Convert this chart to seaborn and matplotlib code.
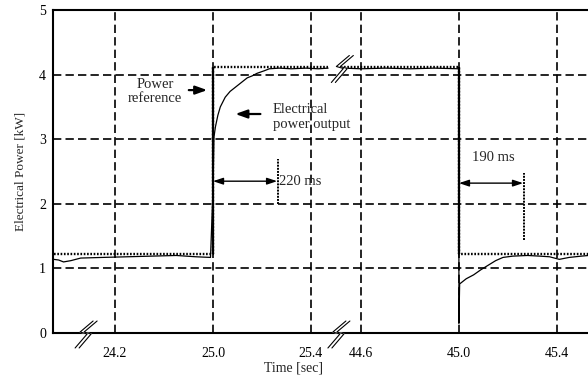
"""Step response of electrical power output (broken time axis)."""

import matplotlib.pyplot as plt
import numpy as np
import pandas as pd
import seaborn as sns
from matplotlib.transforms import Affine2D, ScaledTranslation

sns.set_style("white")
plt.rcParams["font.family"] = ["Liberation Serif", "DejaVu Serif"]

# ---- data ----
# step up (first window) and step down (second window)
seg1_time = [24.35, 24.37, 24.39, 24.42, 24.46, 24.55, 24.65, 24.75, 24.85, 24.93,
             24.99, 25.0, 25.004, 25.01, 25.02, 25.03, 25.05, 25.07, 25.09, 25.11,
             25.14, 25.16, 25.18, 25.21, 25.23, 25.27, 25.32, 25.38, 25.43, 25.47]
seg1_power = [1.14, 1.13, 1.10, 1.12, 1.16, 1.17, 1.18, 1.19, 1.20, 1.18,
              1.17, 2.20, 3.03, 3.19, 3.37, 3.50, 3.65, 3.74, 3.80, 3.86,
              3.95, 3.98, 4.02, 4.06, 4.09, 4.10, 4.09, 4.10, 4.09, 4.10]
seg2_time = [44.53, 44.6, 44.7, 44.8, 44.9, 45.0, 45.0, 45.003, 45.01, 45.03,
             45.06, 45.09, 45.12, 45.15, 45.18, 45.22, 45.28, 45.33, 45.37, 45.41,
             45.45, 45.5, 45.53]
seg2_power = [4.10, 4.09, 4.10, 4.09, 4.10, 4.09, 0.15, 0.76, 0.78, 0.84,
              0.90, 0.98, 1.05, 1.12, 1.17, 1.19, 1.20, 1.19, 1.18, 1.14,
              1.17, 1.19, 1.20]

ref_time = [24.35, 25.0, 25.0, 25.47, 44.53, 45.0, 45.0, 45.53]
ref_power = [1.22, 1.22, 4.11, 4.11, 4.11, 4.11, 1.22, 1.22]
ref_segment = [1, 1, 1, 1, 2, 2, 2, 2]
step_times = [25.0, 45.0]

tick_times = [24.6, 25.0, 25.4, 44.6, 45.0, 45.4]
tick_labels = ["24.2", "25.0", "25.4", "44.6", "45.0", "45.4"]

# second window is shifted left so both windows share one axis
GAP_SHIFT = 44.6 - 25.4 - 0.204


def squeeze(t):
    t = np.asarray(t, dtype=float)
    return np.where(t > 40, t - GAP_SHIFT, t)


out = pd.DataFrame({
    "time": seg1_time + seg2_time,
    "power": seg1_power + seg2_power,
    "segment": [1] * len(seg1_time) + [2] * len(seg2_time),
})
out["x"] = squeeze(out["time"])
ref = pd.DataFrame({"time": ref_time, "power": ref_power, "segment": ref_segment})
ref["x"] = squeeze(ref["time"])

fig = plt.figure(figsize=(5.88, 3.76), dpi=100)
ax = fig.add_axes([53 / 588, 43 / 376, 535 / 588, 323 / 376])

# grid
ax.set_xticks(squeeze(tick_times))
ax.set_xticklabels(tick_labels)
ax.set_yticks(range(6))
ax.grid(True, color="black", linestyle=(0, (5, 2.5)), linewidth=1.2)
ax.set_axisbelow(True)

sns.lineplot(data=ref, x="x", y="power", units="segment", estimator=None, sort=False,
             color="black", linewidth=1.7, linestyle=(0, (0.7, 0.7)), ax=ax)
ax.vlines(squeeze(step_times), 1.22, 4.11, color="black", linewidth=1.6)
sns.lineplot(data=out, x="x", y="power", units="segment", estimator=None, sort=False,
             color="black", linewidth=0.9, ax=ax)

ax.set_xlim(24.347, float(squeeze(45.527)))
ax.set_ylim(0, 5)

for side in ["left", "bottom", "top"]:
    ax.spines[side].set_color("black")
    ax.spines[side].set_linewidth(1.5)
ax.spines["right"].set_visible(False)
ax.tick_params(length=0, labelsize=10, colors="black")
ax.tick_params(axis="x", pad=10)
ax.tick_params(axis="y", pad=5)

ax.set_xlabel("Time [sec]", fontsize=10)
ax.xaxis.set_label_coords(0.449, -0.088)
ax.set_ylabel("Electrical Power [kW]", fontsize=9.5, labelpad=9)

# annotations
fs = 10.5
head = "-|>,head_length=0.7,head_width=0.25"
ax.text(24.763, 3.74, "Power\nreference", fontsize=fs, ha="center", va="center",
        linespacing=1.15)
ax.annotate("", xy=(24.988, 3.76), xytext=(24.89, 3.76),
            arrowprops=dict(arrowstyle=head, color="black", lw=1.6))
ax.text(25.245, 3.35, "Electrical\npower output", fontsize=fs, ha="left",
        va="center", linespacing=1.2)
ax.annotate("", xy=(25.08, 3.39), xytext=(25.205, 3.39),
            arrowprops=dict(arrowstyle=head, color="black", lw=1.6))

both = "<|-|>,head_length=0.6,head_width=0.2"
ax.annotate("", xy=(25.0, 2.35), xytext=(25.262, 2.35),
            arrowprops=dict(arrowstyle=both, color="black", lw=1.0,
                            shrinkA=0, shrinkB=0))
ax.vlines(25.265, 2.0, 2.7, color="black", linewidth=1.4, linestyle=(0, (1, 0.6)))
ax.text(25.27, 2.35, "220 ms", fontsize=fs, ha="left", va="center")

ax.annotate("", xy=(float(squeeze(45.0)), 2.32), xytext=(float(squeeze(45.262)), 2.32),
            arrowprops=dict(arrowstyle=both, color="black", lw=1.0,
                            shrinkA=0, shrinkB=0))
ax.vlines(float(squeeze(45.265)), 1.44, 2.48, color="black", linewidth=1.4,
          linestyle=(0, (1, 0.6)))
ax.text(float(squeeze(45.053)), 2.72, "190 ms", fontsize=fs, ha="left", va="center")

# axis break marks (lightning-shaped double stroke, shape in pixels)
zig_a = np.array([[9, 12], [-4, 1], [3, -1], [-9, -15]], dtype=float)
zig_b = zig_a + [4, 0]
for bx, by in [(24.474, 0.0), (25.506, 0.0), (25.52, 4.11)]:
    tr = Affine2D() + ScaledTranslation(bx, by, ax.transData)
    band = np.vstack([zig_a, zig_b[::-1]])
    ax.fill(band[:, 0], band[:, 1], color="white", transform=tr, clip_on=False,
            zorder=5)
    for z in (zig_a, zig_b):
        ax.plot(z[:, 0], z[:, 1], color="black", lw=0.8, transform=tr,
                clip_on=False, zorder=6)

plt.savefig("out.png", dpi=100)
plt.close()
